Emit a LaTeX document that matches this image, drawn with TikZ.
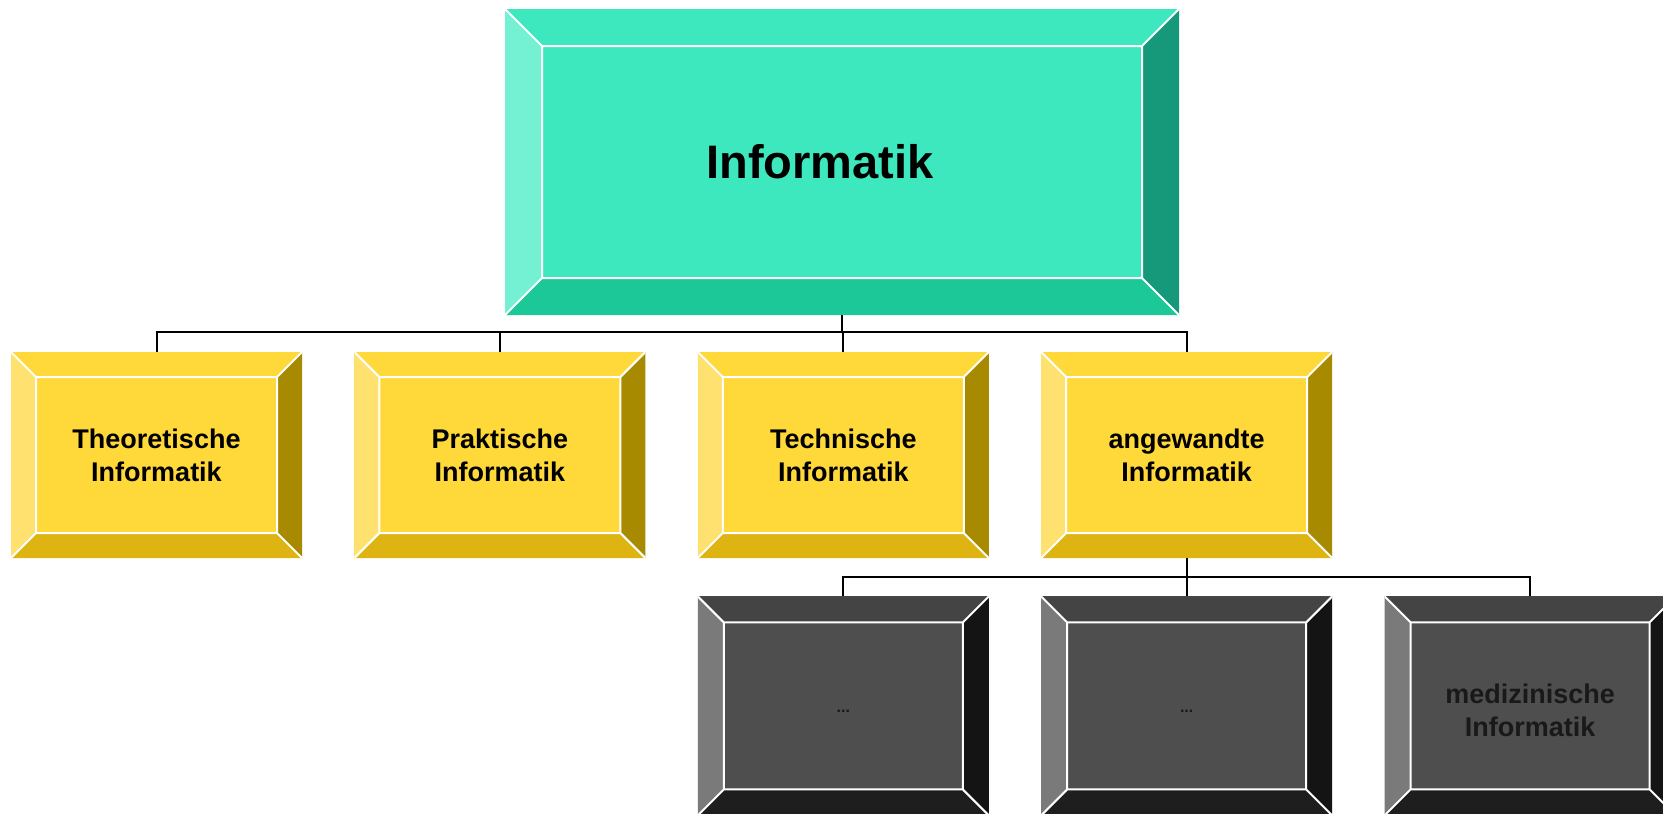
\documentclass[tikz,border=0pt]{standalone}
\usepackage{fontspec}
\setmainfont{Liberation Sans}
\usetikzlibrary{positioning,calc}

\definecolor{tealface}{HTML}{3EE8BE}
\definecolor{tealleft}{HTML}{74F0D2}
\definecolor{tealbottom}{HTML}{1CC897}
\definecolor{tealright}{HTML}{16987A}
\definecolor{goldface}{HTML}{FFD83A}
\definecolor{goldleft}{HTML}{FFE170}
\definecolor{goldbottom}{HTML}{DDB411}
\definecolor{goldright}{HTML}{A88A00}
\definecolor{greyface}{HTML}{4E4E4E}
\definecolor{greytop}{HTML}{444444}
\definecolor{greyleft}{HTML}{7A7A7A}
\definecolor{greybottom}{HTML}{1E1E1E}
\definecolor{greyright}{HTML}{141414}

% bevelled frame inside a node: #1 width, #2 left, #3 top, #4 right, #5 bottom
\newcommand{\bevelframe}[5]{%
  \path (path picture bounding box.north west) coordinate (nw)
        (path picture bounding box.north east) coordinate (ne)
        (path picture bounding box.south east) coordinate (se)
        (path picture bounding box.south west) coordinate (sw);
  \path ($(nw)+(#1,-#1)$) coordinate (inw)
        ($(ne)+(-#1,-#1)$) coordinate (ine)
        ($(se)+(-#1,#1)$) coordinate (ise)
        ($(sw)+(#1,#1)$) coordinate (isw);
  \fill[#3] (nw) -- (ne) -- (ine) -- (inw) -- cycle;
  \fill[#2] (nw) -- (inw) -- (isw) -- (sw) -- cycle;
  \fill[#4] (ne) -- (se) -- (ise) -- (ine) -- cycle;
  \fill[#5] (sw) -- (isw) -- (ise) -- (se) -- cycle;
  \draw[white, line width=2pt] (inw) rectangle (ise)
        (nw) -- (inw) (ne) -- (ine) (se) -- (ise) (sw) -- (isw);
}

\begin{document}
\begin{tikzpicture}[x=1pt, y=-1pt, node distance=52pt,
	root/.style={rectangle, inner sep=0pt, minimum width=674pt, minimum height=306pt,
		fill=tealface, font=\fontsize{47}{56}\selectfont\bfseries,
		path picture={\bevelframe{37pt}{tealleft}{tealface}{tealright}{tealbottom}}},
	field/.style={rectangle, inner sep=0pt, minimum width=291pt, minimum height=206pt,
		fill=goldface, align=center, font=\fontsize{27}{33}\selectfont\bfseries,
		path picture={\bevelframe{25pt}{goldleft}{goldface}{goldright}{goldbottom}}},
	sub/.style={rectangle, inner sep=0pt, minimum width=291pt, minimum height=219pt,
		fill=greyface, align=center, text=black!90, font=\fontsize{27}{33}\selectfont\bfseries,
		path picture={\bevelframe{26pt}{greyleft}{greytop}{greyright}{greybottom}}},
	link/.style={draw=black, line width=2pt}]
	\useasboundingbox (0,0) rectangle (1663,814);

	\node[root]  (inf) at (842,162)        {Informatik\hspace*{44pt}};
	\node[field] (theo) at (156.5,455)     {Theoretische\\Informatik};
	\node[field] (prak) [right=of theo]    {Praktische\\Informatik};
	\node[field] (tech) [right=of prak]    {Technische\\Informatik};
	\node[field] (ang)  [right=of tech]    {angewandte\\Informatik};
	\node[sub]   (a1)   [below=38pt of tech] {\smash{\raisebox{-7pt}{\fontsize{16}{18}\selectfont ...}}};
	\node[sub]   (a2)   [right=of a1]      {\smash{\raisebox{-7pt}{\fontsize{16}{18}\selectfont ...}}};
	\node[sub]   (med)  [right=of a2]
		{\smash{\raisebox{-14pt}{\begin{tabular}{@{}c@{}}medizinische\\Informatik\end{tabular}}}};

	\coordinate (bus1) at (0,332);
	\coordinate (bus2) at (0,577);
	\path[link] (inf.south) -- (inf.south |- bus1)
		(tech.north) -- (tech.north |- bus1)
		(theo.north) -- (theo.north |- bus1) -- (ang.north |- bus1) -- (ang.north)
		(prak.north) -- (prak.north |- bus1);
	\path[link] (ang.south) -- (a2.north)
		(a1.north) -- (a1.north |- bus2) -- (med.north |- bus2) -- (med.north);
\end{tikzpicture}
\end{document}
